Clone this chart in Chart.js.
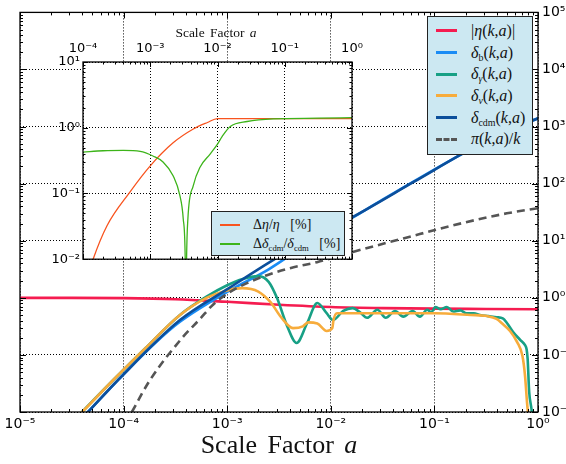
<!DOCTYPE html>
<html>
<head>
<meta charset="utf-8">
<script src="https://cdn.jsdelivr.net/npm/chart.js@4.4.1/dist/chart.umd.min.js"></script>
<style>
  body { margin: 0; background: #fff; }
  #wrap { position: relative; width: 566px; height: 464px; overflow: hidden; background: #fff; }
  canvas { position: absolute; }
  #main { left: 0; top: 0; }
  #inset { left: 40px; top: 20px; }
  .legend { position: absolute; box-sizing: border-box; background: #cce8f2; border: 1.5px solid #222;
    font-family: "Liberation Serif", "DejaVu Serif", serif; color: #111; }
  .legend .row { display: flex; align-items: center; white-space: nowrap; }
  .legend .key { display: inline-block; flex: none; }
  .legend sub { font-size: 0.62em; vertical-align: -0.3em; line-height: 0; }
  .title { position: absolute; white-space: nowrap; transform: translateX(-50%);
    font-family: "Liberation Serif", "DejaVu Serif", serif; line-height: 1; color: #111; }
</style>
</head>
<body>
<div id="wrap">
  <canvas id="main" width="566" height="464"></canvas>
  <canvas id="inset" width="340" height="250"></canvas>
  <div class="title" style="left:279px;top:432px;font-size:26px;word-spacing:4px;">Scale Factor <i>a</i></div>
  <div class="title" style="left:216px;top:26px;font-size:13.5px;word-spacing:2px;">Scale Factor <i>a</i></div>
  <div id="mainLegend" class="legend" style="left:427px;top:16px;width:106px;height:139px;padding-top:3px;"></div>
  <div id="insetLegend" class="legend" style="left:211px;top:211px;width:134px;height:45px;padding-top:3px;"></div>
</div>
<script>
// ---- main panel: log10(a) and log10(value) ----
const etaA = [-5, -4.5, -4, -3.5, -3, -2.5, -2, -1.5, -1, -0.5, 0];
const etaV = [0, 0, -0.005, -0.025, -0.07, -0.12, -0.16, -0.18, -0.19, -0.195, -0.2];

const baryonA = [-4.45, -4.344, -4.054, -3.7, -3.456, -2.983, -2.6, -2.2, -1.795, -1.5, -0.724, -0.35, 0];
const baryonV = [-2.2, -2.0, -1.44, -0.8, -0.42, 0.12, 0.5, 0.98, 1.4, 1.72, 2.53, 2.89, 3.145];

const photonA = [-4.5, -4.4, -4.1, -3.8, -3.456, -3.2, -3.0, -2.85, -2.7, -2.6, -2.52, -2.42, -2.33, -2.23,
  -2.13, -2.04, -1.98, -1.88, -1.79, -1.72, -1.65, -1.55, -1.47, -1.38, -1.3, -1.21, -1.14, -1.07, -1.03,
  -0.99, -0.94, -0.88, -0.82, -0.75, -0.69, -0.62, -0.56, -0.48, -0.4, -0.34, -0.3, -0.24, -0.17, -0.125,
  -0.11, -0.1, -0.085, -0.06, -0.05];
const photonV = [-2.2, -2.0, -1.44, -0.9, -0.3, 0.02, 0.22, 0.33, 0.38, 0.28, 0.0, -0.5, -0.79, -0.45,
  -0.09, -0.27, -0.39, -0.23, -0.18, -0.25, -0.35, -0.21, -0.35, -0.23, -0.33, -0.23, -0.33, -0.21, -0.25,
  -0.16, -0.2, -0.16, -0.24, -0.22, -0.27, -0.27, -0.3, -0.32, -0.34, -0.36, -0.44, -0.6, -0.74, -0.83,
  -0.9, -1.07, -1.65, -2.0, -2.3];

const nuA = [-4.5, -4.4, -4.1, -3.8, -3.456, -3.2, -3.0, -2.857, -2.7, -2.58, -2.48, -2.365, -2.27, -2.22,
  -2.13, -2.04, -1.985, -1.975, -1.94, -1.5, -1.0, -0.65, -0.49, -0.4, -0.34, -0.27, -0.2, -0.15, -0.125,
  -0.106, -0.095, -0.085];
const nuV = [-2.18, -2.0, -1.44, -0.9, -0.3, 0.0, 0.13, 0.17, 0.11, -0.08, -0.34, -0.53, -0.5, -0.43,
  -0.45, -0.58, -0.53, -0.4, -0.27, -0.27, -0.27, -0.3, -0.32, -0.37, -0.46, -0.58, -0.78, -1.02, -1.37,
  -1.83, -2.05, -2.3];

const cdmA = [-4.45, -4.344, -4.054, -3.456, -2.983, -2.558, -2.2, -1.795, -1.2, -0.724, -0.35, 0];
const cdmV = [-2.2, -2.0, -1.44, -0.39, 0.17, 0.66, 1.04, 1.41, 2.03, 2.53, 2.89, 3.145];

const piA = [-3.98, -3.92, -3.745, -3.436, -3.263, -3.137, -3.002, -2.809, -2.616, -2.394, -2.133, -1.795,
  -1.3, -0.695, -0.3, 0];
const piV = [-2.2, -2.0, -1.44, -0.705, -0.37, -0.12, 0.07, 0.257, 0.397, 0.52, 0.625, 0.8, 1.04, 1.325,
  1.48, 1.57];

// ---- inset: relative differences in percent ----
const dEtaA = [-3.88, -3.85, -3.643, -3.3, -3.0, -2.66, -2.36, -2.15, -2.0, -1.0, 0];
const dEtaV = [-2.1, -2.0, -1.49, -0.975, -0.58, -0.23, -0.02, 0.08, 0.14, 0.14, 0.14];

const dCdmA = [-4.0, -3.7, -3.4, -3.15, -2.96, -2.81, -2.66, -2.56, -2.51, -2.48, -2.47, -2.46, -2.44,
  -2.36, -2.26, -2.11, -2.0, -1.93, -1.81, -1.56, -1.17, -0.5, 0];
const dCdmV = [-0.37, -0.35, -0.345, -0.36, -0.43, -0.52, -0.73, -1.03, -1.38, -2.0, -3.0, -2.0, -1.38,
  -0.88, -0.6, -0.4, -0.25, -0.13, 0.02, 0.095, 0.135, 0.145, 0.155];

// tick labels
const mainXTicks = ["10⁻⁵", "10⁻⁴", "10⁻³", "10⁻²", "10⁻¹", "10⁰"];
const mainYTicks = ["10⁻²", "10⁻¹", "10⁰", "10¹", "10²", "10³", "10⁴", "10⁵"];
const insetXTicks = ["10⁻⁴", "10⁻³", "10⁻²", "10⁻¹", "10⁰"];
const insetYTicks = ["10⁻²", "10⁻¹", "10⁰", "10¹"];

const mainNames = ["|<i>η</i>(<i>k</i>,<i>a</i>)|", "<i>δ</i><sub>b</sub>(<i>k</i>,<i>a</i>)",
  "<i>δ</i><sub><i>γ</i></sub>(<i>k</i>,<i>a</i>)", "<i>δ</i><sub><i>ν</i></sub>(<i>k</i>,<i>a</i>)",
  "<i>δ</i><sub>cdm</sub>(<i>k</i>,<i>a</i>)", "<i>π</i>(<i>k</i>,<i>a</i>)/<i>k</i>"];
const insetNames = ["Δ<i>η</i>/<i>η</i> &nbsp;&nbsp;[%]",
  "Δ<i>δ</i><sub>cdm</sub>/<i>δ</i><sub>cdm</sub> &nbsp;&nbsp;[%]"];

const pts = (la, lv) => la.map((v, i) => ({ x: Math.pow(10, v), y: Math.pow(10, lv[i]) }));

function line(label, la, lv, color, width, order, dash) {
  return {
    label: label, data: pts(la, lv), borderColor: color, backgroundColor: color,
    borderWidth: width, borderDash: dash || [], order: order,
    pointRadius: 0, fill: false, cubicInterpolationMode: "monotone"
  };
}

// log axis with ticks at 1..9 x 10^n, labels only at powers of ten
function logAxis(pos, lo, hi, labels, font, pad, size) {
  return {
    type: "logarithmic", position: pos, min: Math.pow(10, lo), max: Math.pow(10, hi),
    afterBuildTicks: function (scale) {
      const t = [];
      for (let e = lo; e <= hi; e++) {
        for (let m = 1; m <= 9; m++) {
          if (e === hi && m > 1) break;
          t.push({ value: m * Math.pow(10, e), major: m === 1 });
        }
      }
      scale.ticks = t;
    },
    afterFit: function (scale) {
      if (scale.isHorizontal()) scale.height = size; else scale.width = size;
    },
    ticks: {
      autoSkip: false, maxRotation: 0, padding: pad, color: "#000",
      font: { family: "DejaVu Sans", size: font },
      callback: function (v, i, ticks) {
        if (!ticks[i].major) return "";
        return labels[Math.round(Math.log10(v)) - lo];
      }
    },
    grid: {
      drawTicks: false, lineWidth: 1,
      color: c => (c.tick && c.tick.major ? "#000" : "rgba(0,0,0,0)")
    },
    border: { display: false, dash: [1, 2] }
  };
}

// inner tick marks on all four sides plus the frame
const frameTicks = {
  id: "frameTicks",
  beforeDraw(chart, args, opts) {
    if (!opts.fill) return;
    const a = chart.chartArea, ctx = chart.ctx;
    ctx.save();
    ctx.fillStyle = opts.fill;
    ctx.fillRect(a.left, a.top, a.right - a.left, a.bottom - a.top);
    ctx.restore();
  },
  afterDraw(chart, args, opts) {
    const a = chart.chartArea, ctx = chart.ctx;
    ctx.save();
    ctx.strokeStyle = "#000";
    ctx.lineWidth = 1;
    for (const s of Object.values(chart.scales)) {
      const horiz = s.isHorizontal();
      for (const t of s.ticks) {
        const p = Math.round(s.getPixelForValue(t.value)) + 0.5;
        const len = t.major ? opts.major : opts.minor;
        ctx.beginPath();
        if (horiz) {
          ctx.moveTo(p, a.top); ctx.lineTo(p, a.top + len);
          ctx.moveTo(p, a.bottom); ctx.lineTo(p, a.bottom - len);
        } else {
          ctx.moveTo(a.left, p); ctx.lineTo(a.left + len, p);
          ctx.moveTo(a.right, p); ctx.lineTo(a.right - len, p);
        }
        ctx.stroke();
      }
    }
    ctx.lineWidth = opts.frame;
    ctx.strokeRect(a.left, a.top, a.right - a.left, a.bottom - a.top);
    ctx.restore();
  }
};

const mainChart = new Chart(document.getElementById("main"), {
  type: "line",
  data: {
    datasets: [
      line("|η(k,a)|", etaA, etaV, "#f51c50", 2.6, 6),
      line("δb(k,a)", baryonA, baryonV, "#1a8cf5", 2.6, 5),
      line("δγ(k,a)", photonA, photonV, "#17a085", 2.6, 4),
      line("δν(k,a)", nuA, nuV, "#f7ac3c", 2.6, 3),
      line("δcdm(k,a)", cdmA, cdmV, "#0c4f9b", 2.6, 2),
      line("π(k,a)/k", piA, piV, "#555555", 2.6, 1, [8, 5])
    ]
  },
  options: {
    responsive: false, animation: false, devicePixelRatio: 1,
    layout: { padding: { left: 20, top: 12, right: 0, bottom: 0 } },
    plugins: {
      legend: { display: false }, tooltip: { enabled: false },
      frameTicks: { major: 6, minor: 3, frame: 1.3 }
    },
    scales: {
      x: logAxis("bottom", -5, 0, mainXTicks, 14, 4, 52),
      y: logAxis("right", -2, 5, mainYTicks, 14, 4, 28)
    }
  },
  plugins: [frameTicks]
});

const insetChart = new Chart(document.getElementById("inset"), {
  type: "line",
  data: {
    datasets: [
      line("Δη/η [%]", dEtaA, dEtaV, "#f8541f", 1.3, 2),
      line("Δδcdm/δcdm [%]", dCdmA, dCdmV, "#3db41a", 1.3, 1)
    ]
  },
  options: {
    responsive: false, animation: false, devicePixelRatio: 1,
    layout: { padding: { left: 0, top: 0, right: 28, bottom: 9 } },
    plugins: {
      legend: { display: false }, tooltip: { enabled: false },
      frameTicks: { major: 5, minor: 2.5, frame: 1.3, fill: "#ffffff" }
    },
    scales: {
      x: logAxis("top", -4, 0, insetXTicks, 13, 6, 42),
      y: logAxis("left", -2, 1, insetYTicks, 13, 3, 43)
    }
  },
  plugins: [frameTicks]
});

// html legends built from the datasets
function buildLegend(el, chart, names, rowH, keyLeft, keyW, gap, fontSize, keyH) {
  chart.data.datasets.forEach(function (ds, i) {
    const row = document.createElement("div");
    row.className = "row";
    row.style.height = rowH + "px";
    row.style.fontSize = fontSize + "px";
    const key = document.createElement("span");
    key.className = "key";
    key.style.marginLeft = keyLeft + "px";
    key.style.width = keyW + "px";
    key.style.marginRight = gap + "px";
    key.style.borderTop = keyH + "px " + (ds.borderDash.length ? "dashed " : "solid ") + ds.borderColor;
    row.appendChild(key);
    const txt = document.createElement("span");
    txt.innerHTML = names[i];
    row.appendChild(txt);
    el.appendChild(row);
  });
}
buildLegend(document.getElementById("mainLegend"), mainChart, mainNames, 21.7, 8, 21, 14, 16, 3);
buildLegend(document.getElementById("insetLegend"), insetChart, insetNames, 19, 8, 20, 13, 14, 2);
</script>
</body>
</html>
